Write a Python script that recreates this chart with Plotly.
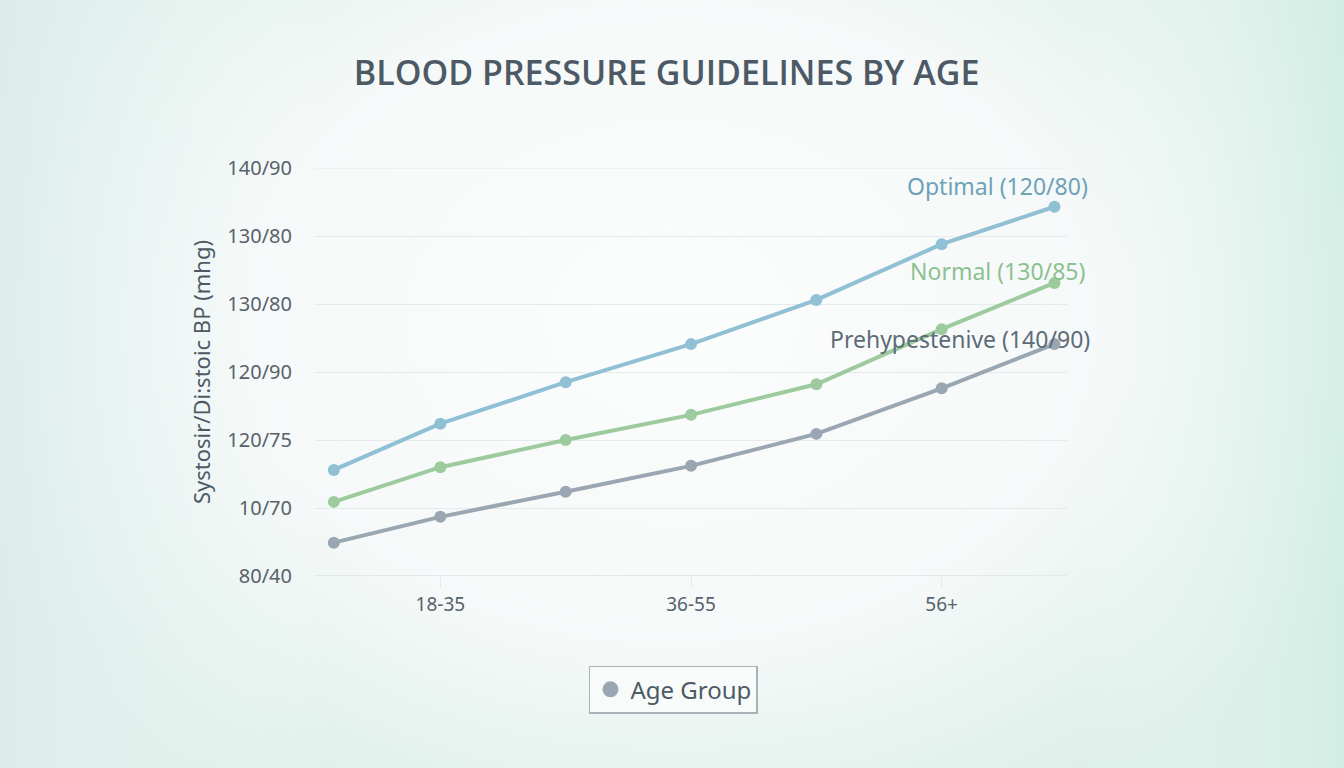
import base64
import plotly.graph_objects as go

# x positions on a 0..6 axis; ticks only at the three age groups
x_pos = [0.15, 1, 2, 3, 4, 5, 5.9]
tick_vals_x = [1, 3, 5]
tick_text_x = ["18-35", "36-55", "56+"]

tick_vals_y = [0, 1, 2, 3, 4, 5, 6]
tick_text_y = ["80/40", "10/70", "120/75", "120/90", "130/80", "130/80", "140/90"]

optimal = [1.56, 2.24, 2.85, 3.41, 4.06, 4.88, 5.43]
normal = [1.09, 1.60, 2.00, 2.37, 2.82, 3.63, 4.31]
prehyp = [0.49, 0.87, 1.24, 1.62, 2.09, 2.76, 3.41]

series = [
    ("Optimal (120/80)", optimal, "#8fc0d3", "#6ea2b7"),
    ("Normal (130/85)", normal, "#9dcb9e", "#8cc190"),
    ("Prehypestenive (140/90)", prehyp, "#9aa7b2", "#5d6c77"),
]
# label positions (paper coords, right edge)
label_x = [1.03, 1.026, 1.033]
label_y = [0.956, 0.748, 0.581]

FONT = "Noto Sans"
W, H = 1344, 768
L, R, T, B = 315, 277, 168, 192
pw, ph = W - L - R, H - T - B

# soft background glow
bg_svg = f"""<svg xmlns='http://www.w3.org/2000/svg' width='{W}' height='{H}'>
<defs>
<radialGradient id='g' cx='0.5' cy='0.42' r='0.75' gradientTransform='translate(0.5 0.42) scale(0.75 1) translate(-0.5 -0.42)'>
<stop offset='0' stop-color='#fcfdfd'/>
<stop offset='0.55' stop-color='#f6f9f9'/>
<stop offset='1' stop-color='#d9eee6'/>
</radialGradient>
<linearGradient id='h' x1='0' y1='0' x2='1' y2='0'>
<stop offset='0' stop-color='#dcecee' stop-opacity='0.7'/>
<stop offset='0.25' stop-color='#ffffff' stop-opacity='0'/>
<stop offset='0.8' stop-color='#ffffff' stop-opacity='0'/>
<stop offset='1' stop-color='#cdeee2' stop-opacity='0.6'/>
</linearGradient>
</defs>
<rect width='100%' height='100%' fill='url(#g)'/>
<rect width='100%' height='100%' fill='url(#h)'/>
</svg>"""
bg_src = "data:image/svg+xml;base64," + base64.b64encode(bg_svg.encode()).decode()

fig = go.Figure()
for name, vals, color, label_color in series:
    fig.add_trace(go.Scatter(
        x=x_pos, y=vals, mode="lines+markers", name=name, showlegend=False,
        line=dict(color=color, width=4),
        marker=dict(color=color, size=12),
    ))

# dummy trace for the legend
fig.add_trace(go.Scatter(
    x=[None], y=[None], mode="markers", name="Age Group",
    marker=dict(color="#9aa7b2", size=16),
))

for (name, vals, color, label_color), lx, ly in zip(series, label_x, label_y):
    fig.add_annotation(
        x=lx, y=ly, xref="paper", yref="paper", text=name, showarrow=False,
        xanchor="right", yanchor="middle",
        font=dict(family=FONT, size=23, color=label_color),
    )

fig.add_layout_image(
    source=bg_src, xref="paper", yref="paper",
    x=-L / pw, y=1 + T / ph, sizex=W / pw, sizey=H / ph,
    xanchor="left", yanchor="top", sizing="stretch", layer="below",
)

fig.update_layout(
    width=W, height=H,
    paper_bgcolor="#f3f7f6", plot_bgcolor="rgba(0,0,0,0)",
    margin=dict(l=L, r=R, t=T, b=B),
    title=dict(
        text="BLOOD PRESSURE GUIDELINES BY AGE", x=0.496, xanchor="center",
        y=0.905, yanchor="middle",
        font=dict(family="Open Sans", size=34, color="#4d5a65", weight=600),
    ),
    font=dict(family=FONT, color="#58626a"),
    showlegend=True,
    legend=dict(
        orientation="h", x=0.4767, xanchor="center", y=-0.22, yanchor="top",
        bgcolor="rgba(255,255,255,0.5)", bordercolor="#a9b4ba", borderwidth=1.5,
        font=dict(family=FONT, size=24, color="#4d5a65"),
    ),
    xaxis=dict(
        range=[0, 6], tickvals=tick_vals_x, ticktext=tick_text_x,
        showgrid=False, zeroline=False, showline=False,
        ticks="outside", ticklen=11, tickcolor="#e4e8e8",
        tickfont=dict(size=19, color="#58626a"),
    ),
    yaxis=dict(
        range=[0, 6], tickvals=tick_vals_y, ticktext=tick_text_y,
        showgrid=True, gridcolor="#e6eaea", gridwidth=1, zeroline=False,
        ticklabelstandoff=22,
        tickfont=dict(size=20, color="#58626a"),
        title=dict(text="Systosir/Di:stoic BP (mhg)", standoff=10,
                   font=dict(size=22, color="#4d5a65")),
    ),
)
fig.add_hline(y=0, line=dict(color="#e4e8e8", width=2))
fig.add_hline(y=6, line=dict(color="#e6eaea", width=1))

fig.write_html("out.html", config={"displayModeBar": False},
               post_script="document.body.style.margin='0';")
